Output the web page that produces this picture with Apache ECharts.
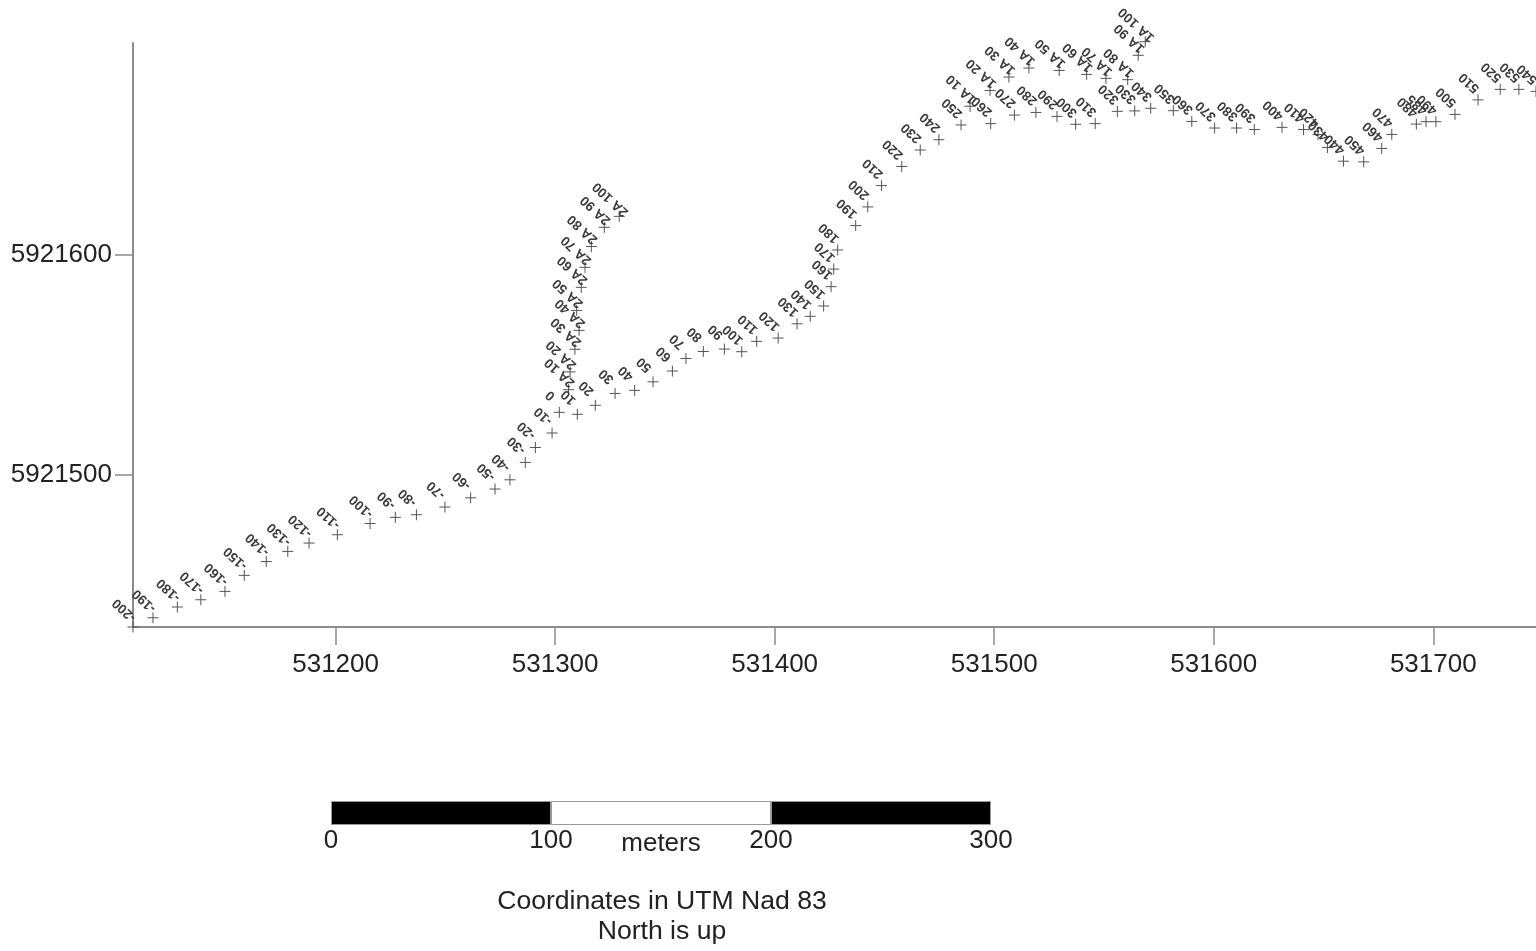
<!DOCTYPE html>
<html>
<head>
<meta charset="utf-8">
<title>Survey lines</title>
<script src="https://cdn.jsdelivr.net/npm/echarts@6/dist/echarts.min.js"></script>
<style>
  html, body { margin: 0; padding: 0; background: #fff; }
  #main { width: 1536px; height: 951px; }
</style>
</head>
<body>
<div id="main"></div>
<script>
// axis ticks (UTM metres)
const eastTicks = [531200, 531300, 531400, 531500, 531600, 531700];
const northTicks = [5921500, 5921600];

// main line stations
const lineLabels = ['-200', '-190', '-180', '-170', '-160', '-150', '-140', '-130', '-120', '-110',
  '-100', '-90', '-80', '-70', '-60', '-50', '-40', '-30', '-20', '-10',
  '0', '10', '20', '30', '40', '50', '60', '70', '80', '90',
  '100', '110', '120', '130', '140', '150', '160', '170', '180', '190',
  '200', '210', '220', '230', '240', '250', '260', '270', '280', '290',
  '300', '310', '320', '330', '340', '350', '360', '370', '380', '390',
  '400', '410', '420', '430', '440', '450', '460', '470', '480', '485', '490',
  '500', '510', '520', '530', '540'];
const lineEast = [531107.7, 531116.8, 531127.9, 531138.6, 531149.6, 531158.4, 531168.4, 531178.2, 531187.9, 531200.8,
  531215.7, 531227.2, 531236.8, 531249.8, 531261.5, 531272.6, 531279.4, 531286.4, 531291.0, 531298.6,
  531301.9, 531310.1, 531318.3, 531327.3, 531336.2, 531344.6, 531353.4, 531359.6, 531367.5, 531377.1,
  531385.0, 531391.8, 531401.6, 531410.2, 531416.2, 531422.3, 531425.7, 531426.9, 531428.7, 531436.9,
  531442.4, 531448.7, 531457.9, 531466.3, 531474.8, 531484.9, 531498.4, 531509.2, 531519.0, 531528.6,
  531537.1, 531546.0, 531556.1, 531564.0, 531571.3, 531581.6, 531590.0, 531600.4, 531610.4, 531618.5,
  531631.1, 531640.9, 531647.5, 531651.8, 531659.1, 531668.3, 531676.5, 531681.1, 531692.3, 531696.7, 531701.2,
  531709.9, 531720.4, 531730.5, 531739.0, 531746.8];
const lineNorth = [5921430.6, 5921434.8, 5921439.7, 5921443.0, 5921446.8, 5921454.1, 5921460.4, 5921465.0, 5921468.8, 5921472.6,
  5921477.7, 5921480.5, 5921481.7, 5921485.2, 5921489.4, 5921493.4, 5921497.6, 5921505.5, 5921512.3, 5921518.9,
  5921528.3, 5921527.4, 5921531.5, 5921536.9, 5921538.3, 5921542.2, 5921547.1, 5921552.8, 5921556.0, 5921557.1,
  5921555.9, 5921560.6, 5921562.1, 5921568.6, 5921572.0, 5921576.7, 5921585.5, 5921593.5, 5921602.2, 5921613.3,
  5921621.8, 5921631.5, 5921640.2, 5921647.7, 5921652.4, 5921659.1, 5921659.7, 5921663.6, 5921664.8, 5921663.0,
  5921659.4, 5921659.7, 5921665.3, 5921665.5, 5921666.7, 5921665.6, 5921660.7, 5921657.7, 5921657.7, 5921657.0,
  5921658.0, 5921657.0, 5921654.7, 5921648.8, 5921642.6, 5921642.3, 5921648.4, 5921654.8, 5921659.5, 5921660.6, 5921660.6,
  5921663.9, 5921670.5, 5921675.3, 5921675.3, 5921674.4];

// branch 1A
const branch1Labels = ['1A 10', '1A 20', '1A 30', '1A 40', '1A 50', '1A 60', '1A 70', '1A 80', '1A 90', '1A 100'];
const branch1East = [531489.0, 531498.1, 531506.7, 531515.8, 531529.6, 531542.1, 531550.9, 531560.8, 531565.6, 531568.8];
const branch1North = [5921667.6, 5921674.8, 5921680.9, 5921685.0, 5921683.9, 5921682.1, 5921680.3, 5921679.7, 5921690.8, 5921697.0];

// branch 2A
const branch2Labels = ['2A 10', '2A 20', '2A 30', '2A 40', '2A 50', '2A 60', '2A 70', '2A 80', '2A 90', '2A 100'];
const branch2East = [531306.1, 531306.8, 531309.0, 531310.9, 531309.8, 531311.9, 531313.6, 531316.5, 531322.4, 531329.2];
const branch2North = [5921538.6, 5921546.7, 5921557.0, 5921565.6, 5921574.7, 5921585.2, 5921594.3, 5921603.8, 5921612.5, 5921617.5];

// scale bar
const scaleTicks = [0, 100, 200, 300];
const scaleSegments = [100, 100, 100];
const scaleColors = ['#000', '#fff', '#000'];

var font = 'Liberation Sans, Arial, sans-serif';
var myChart = echarts.init(document.getElementById('main'));

// one group of stations, crosses with tilted upside-down labels
function stations(labels, east, north) {
  return {
    type: 'scatter',
    xAxisIndex: 0,
    yAxisIndex: 0,
    clip: false,
    symbol: 'path://M0,5L10,5M5,0L5,10',
    symbolSize: 11,
    itemStyle: { color: 'none', borderColor: '#555', borderWidth: 1, opacity: 1 },
    label: {
      show: true,
      position: 'inside',
      // the offset turns with the label, so it is along and across the text
      offset: [18, 6.5],
      rotate: 137,
      align: 'center',
      verticalAlign: 'middle',
      fontFamily: font,
      fontSize: 13.5,
      fontWeight: 'bold',
      color: '#3a3a3a',
      formatter: function (p) { return p.data[2]; }
    },
    data: labels.map(function (t, i) { return [east[i], north[i], t]; })
  };
}

var axisGrey = { color: '#8c8c8c', width: 2 };
function plain(v) { return String(v); }

var option = {
  animation: false,
  backgroundColor: '#fff',
  title: {
    text: 'Coordinates in UTM Nad 83\nNorth is up',
    left: 657,
    top: 882,
    textAlign: 'center',
    textStyle: { fontFamily: font, fontSize: 26.6, fontWeight: 'normal', color: '#222', lineHeight: 30 }
  },
  grid: [
    { left: 133, top: 43, width: 1403, height: 584, outerBoundsMode: 'none' },
    { left: 331, top: 801, width: 660, height: 24, outerBoundsMode: 'none' }
  ],
  xAxis: [
    {
      type: 'value',
      gridIndex: 0,
      min: 531107.7,
      max: 531746.8,
      splitLine: { show: false },
      axisLine: { lineStyle: axisGrey },
      axisTick: { length: 18, lineStyle: { color: '#8c8c8c', width: 1.5 }, customValues: eastTicks },
      axisLabel: { customValues: eastTicks, margin: 25, fontFamily: font, fontSize: 26, color: '#222', formatter: plain }
    },
    {
      type: 'value',
      gridIndex: 1,
      min: scaleTicks[0],
      max: scaleTicks[3],
      interval: 100,
      name: 'meters',
      nameLocation: 'middle',
      nameGap: 19,
      nameMoveOverlap: false,
      nameTextStyle: { fontFamily: font, fontSize: 26, color: '#222', verticalAlign: 'middle' },
      splitLine: { show: false },
      axisLine: { show: false },
      axisTick: { show: false },
      axisLabel: { margin: 3, fontFamily: font, fontSize: 26, color: '#222', showMinLabel: true, showMaxLabel: true, alignMinLabel: 'center', alignMaxLabel: 'center' }
    }
  ],
  yAxis: [
    {
      type: 'value',
      gridIndex: 0,
      min: 5921430.6,
      max: 5921696.4,
      splitLine: { show: false },
      axisLine: { lineStyle: axisGrey },
      axisTick: { length: 18, lineStyle: { color: '#8c8c8c', width: 1.5 }, customValues: northTicks },
      axisLabel: { customValues: northTicks, margin: 21, padding: [3, 0, 0, 0], fontFamily: font, fontSize: 26, color: '#222', formatter: plain }
    },
    {
      type: 'category',
      gridIndex: 1,
      data: ['scale'],
      show: false
    }
  ],
  series: [
    stations(lineLabels, lineEast, lineNorth),
    stations(branch1Labels, branch1East, branch1North),
    stations(branch2Labels, branch2East, branch2North)
  ].concat(scaleSegments.map(function (v, i) {
    return {
      type: 'bar',
      xAxisIndex: 1,
      yAxisIndex: 1,
      stack: 'scale',
      barWidth: '100%',
      silent: true,
      itemStyle: { color: scaleColors[i], borderColor: '#999', borderWidth: 1 },
      data: [v]
    };
  }))
};

myChart.setOption(option);
</script>
</body>
</html>
